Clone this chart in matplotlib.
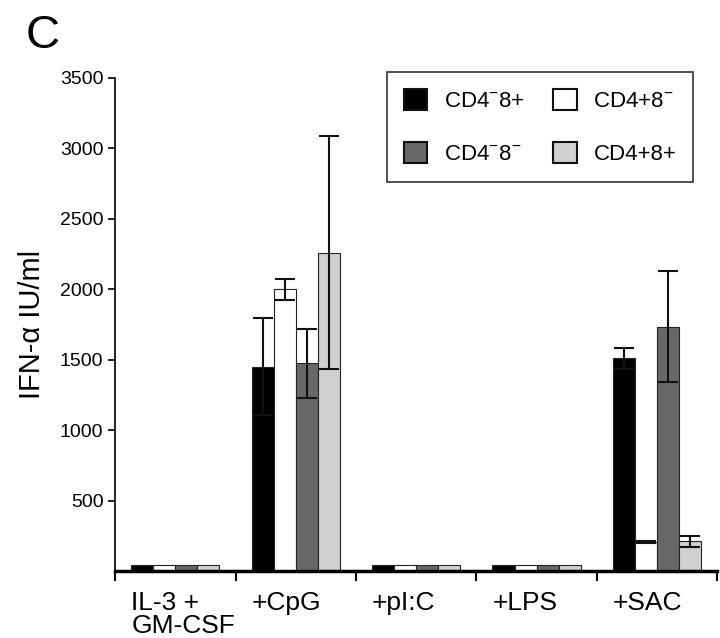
import numpy as np
import matplotlib
matplotlib.use("Agg")
import matplotlib.pyplot as plt
from matplotlib.patches import Patch

plt.rcParams["font.family"] = ["Liberation Sans", "DejaVu Sans"]
plt.rcParams["mathtext.fontset"] = "custom"
plt.rcParams["mathtext.rm"] = "Liberation Sans"
plt.rcParams["mathtext.it"] = "Liberation Sans"

# Datos
categorias = ["IL-3 +\nGM-CSF", "+CpG", "+pI:C", "+LPS", "+SAC"]
series = ["CD4$^{-}$8+", "CD4+8$^{-}$", "CD4$^{-}$8$^{-}$", "CD4+8+"]
cd4m_8p = [40, 1450, 45, 45, 1510]
cd4p_8m = [40, 2000, 45, 45, 205]
cd4m_8m = [40, 1475, 45, 45, 1735]
cd4p_8p = [40, 2260, 45, 45, 210]
err_cd4m_8p = [0, 345, 0, 0, 75]
err_cd4p_8m = [0, 75, 0, 0, 8]
err_cd4m_8m = [0, 245, 0, 0, 395]
err_cd4p_8p = [0, 825, 0, 0, 40]
yticks = [500, 1000, 1500, 2000, 2500, 3000, 3500]

valores = [cd4m_8p, cd4p_8m, cd4m_8m, cd4p_8p]
errores = [err_cd4m_8p, err_cd4p_8m, err_cd4m_8m, err_cd4p_8p]
colores = ["#000000", "#ffffff", "#686868", "#d0d0d0"]

fig = plt.figure(figsize=(7.2, 6.38), dpi=100)
ax = fig.add_axes([0.16, 0.105, 0.836, 0.773])

x = np.arange(len(categorias))
ancho = 0.183
for i, (vals, errs, col) in enumerate(zip(valores, errores, colores)):
    pos = x + (i - 1.5) * ancho
    ax.bar(pos, vals, width=ancho, color=col, edgecolor="#222222", linewidth=0.8, zorder=2)
    e = np.array(errs)
    m = e > 0
    ax.errorbar(pos[m], np.array(vals)[m], yerr=e[m], fmt="none", ecolor="#111111",
                elinewidth=1.5, capsize=7, capthick=1.5, zorder=3)

ax.set_xlim(-0.5, 4.5)
ax.set_ylim(0, 3500)
ax.set_yticks(yticks)
ax.tick_params(axis="y", labelsize=14, length=5, width=1.2, direction="out")
ax.set_xticks(np.arange(-0.5, 5, 1))
ax.set_xticklabels([])
ax.tick_params(axis="x", length=7, width=1.5, direction="out")
for s in ["top", "right"]:
    ax.spines[s].set_visible(False)
ax.spines["left"].set_linewidth(1.2)
ax.spines["bottom"].set_linewidth(2.5)

for xi, cat in zip(x, categorias):
    ax.text(xi - 2 * ancho, -0.04, cat, transform=ax.get_xaxis_transform(),
            ha="left", va="top", fontsize=19, linespacing=0.95)

ax.set_ylabel("IFN-α IU/ml", fontsize=21, labelpad=10)
fig.text(0.035, 0.978, "C", fontsize=34, ha="left", va="top")

orden = [0, 2, 1, 3]
handles = [Patch(facecolor=colores[i], edgecolor="#111111", linewidth=1.5) for i in orden]
labels = [series[i] for i in orden]
leg = ax.legend(handles, labels, ncol=2, loc="upper right",
                bbox_to_anchor=(693 / 720, 1 - 72 / 638), bbox_transform=fig.transFigure,
                borderaxespad=0, fontsize=16, frameon=True, fancybox=False, edgecolor="black",
                handlelength=1.05, handleheight=1.1, labelspacing=1.35,
                columnspacing=1.3, handletextpad=0.75, borderpad=0.75)
leg.get_frame().set_linewidth(1.2)

plt.savefig("out.png", dpi=100)
